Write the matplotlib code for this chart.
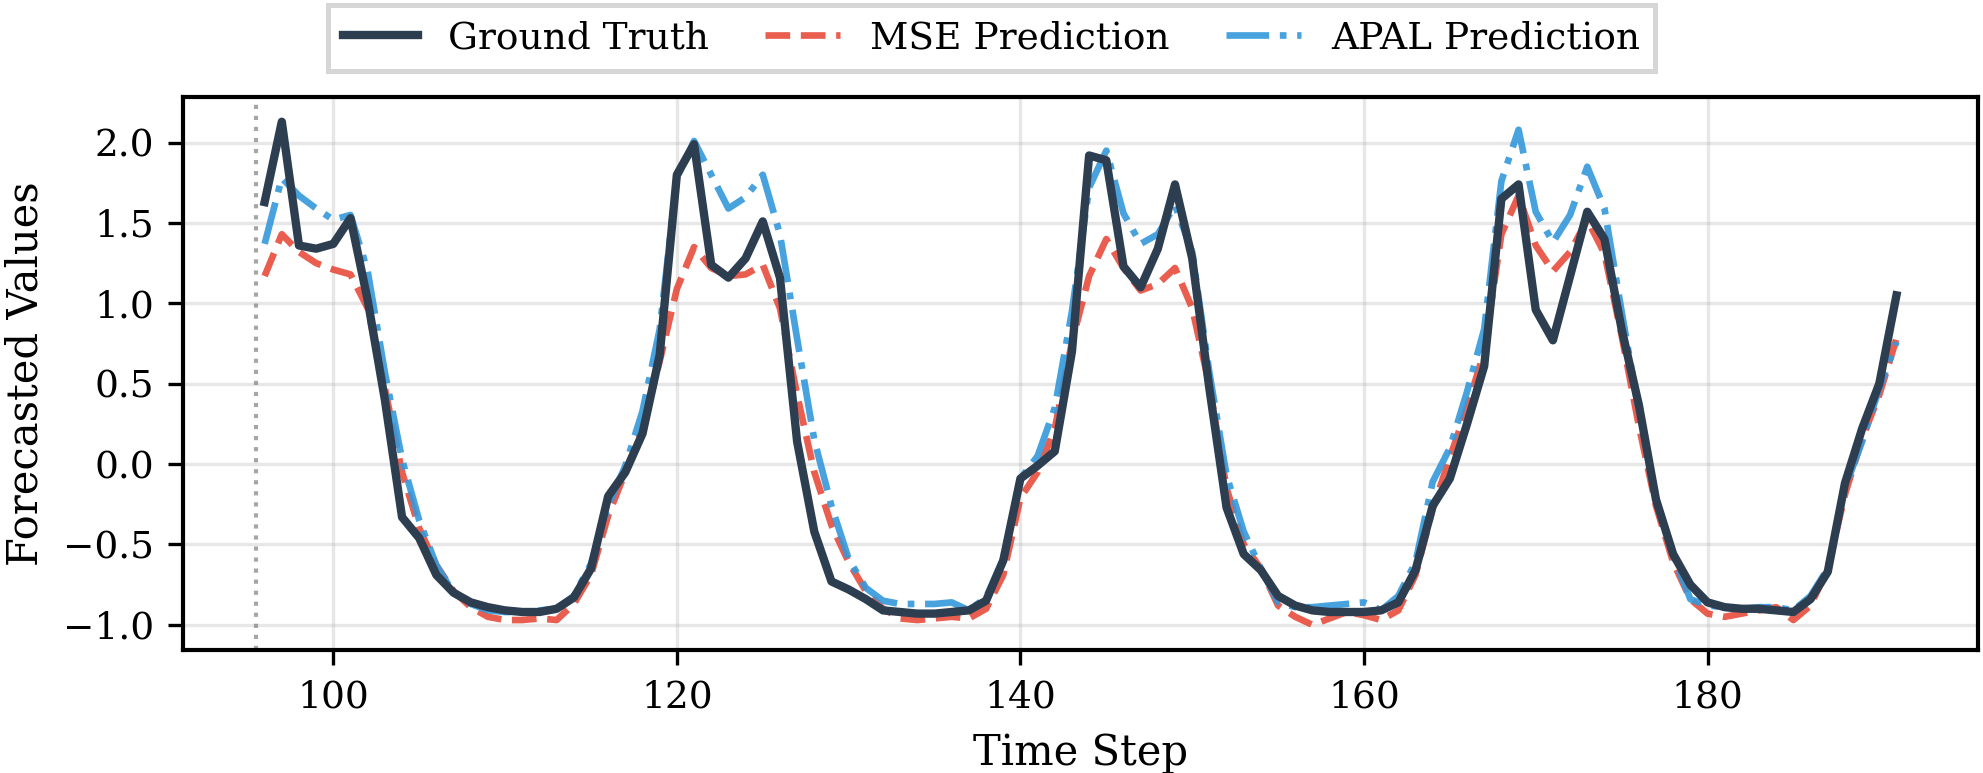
import numpy as np
import matplotlib

matplotlib.use("Agg")
import matplotlib.pyplot as plt

plt.rcParams["font.family"] = "DejaVu Serif"

# time steps of the forecast horizon
time_steps = list(range(96, 192))
input_end = 95.5

ground_truth = [
    1.63, 2.13, 1.36, 1.34, 1.37, 1.53, 1.02, 0.40, -0.33, -0.46,
    -0.69, -0.80, -0.86, -0.89, -0.91, -0.92, -0.92, -0.90, -0.83, -0.65,
    -0.20, -0.05, 0.19, 0.68, 1.80, 1.99, 1.24, 1.16, 1.28, 1.51,
    1.16, 0.14, -0.42, -0.73, -0.78, -0.84, -0.91, -0.92, -0.93, -0.93,
    -0.92, -0.91, -0.85, -0.60, -0.09, -0.01, 0.08, 0.70, 1.92, 1.89,
    1.23, 1.10, 1.34, 1.74, 1.28, 0.47, -0.27, -0.56, -0.66, -0.82,
    -0.88, -0.91, -0.92, -0.92, -0.92, -0.91, -0.86, -0.66, -0.26, -0.09,
    0.25, 0.61, 1.65, 1.74, 0.96, 0.77, 1.17, 1.57, 1.40, 0.84,
    0.37, -0.22, -0.56, -0.75, -0.86, -0.89, -0.90, -0.90, -0.91, -0.92,
    -0.84, -0.67, -0.12, 0.22, 0.50, 1.05,
]

mse_pred = [
    1.17, 1.43, 1.32, 1.25, 1.21, 1.18, 0.97, 0.47, -0.05, -0.40,
    -0.63, -0.79, -0.89, -0.95, -0.97, -0.97, -0.96, -0.97, -0.87, -0.69,
    -0.32, -0.05, 0.22, 0.64, 1.09, 1.35, 1.22, 1.17, 1.18, 1.24,
    0.97, 0.43, -0.05, -0.38, -0.61, -0.79, -0.90, -0.96, -0.97, -0.96,
    -0.95, -0.96, -0.90, -0.69, -0.21, -0.05, 0.22, 0.76, 1.17, 1.40,
    1.22, 1.08, 1.12, 1.22, 0.97, 0.49, -0.15, -0.50, -0.65, -0.88,
    -0.95, -1.00, -0.96, -0.92, -0.94, -0.97, -0.91, -0.69, -0.28, 0.04,
    0.35, 0.70, 1.43, 1.67, 1.36, 1.20, 1.32, 1.52, 1.31, 0.80,
    0.24, -0.26, -0.61, -0.84, -0.93, -0.95, -0.93, -0.91, -0.89, -0.97,
    -0.88, -0.65, -0.19, 0.16, 0.43, 0.78,
]

apal_pred = [
    1.37, 1.78, 1.67, 1.59, 1.52, 1.55, 1.20, 0.57, 0.03, -0.35,
    -0.63, -0.80, -0.87, -0.91, -0.92, -0.92, -0.91, -0.90, -0.82, -0.62,
    -0.26, -0.01, 0.33, 0.84, 1.78, 2.01, 1.80, 1.59, 1.66, 1.80,
    1.43, 0.78, 0.15, -0.26, -0.59, -0.77, -0.85, -0.87, -0.87, -0.87,
    -0.86, -0.91, -0.83, -0.59, -0.09, 0.05, 0.35, 0.95, 1.72, 1.95,
    1.56, 1.37, 1.43, 1.61, 1.32, 0.57, -0.07, -0.42, -0.65, -0.86,
    -0.89, -0.89, -0.88, -0.87, -0.86, -0.91, -0.82, -0.61, -0.11, 0.10,
    0.45, 0.84, 1.76, 2.08, 1.57, 1.38, 1.55, 1.85, 1.59, 0.95,
    0.33, -0.21, -0.57, -0.84, -0.88, -0.89, -0.90, -0.89, -0.89, -0.91,
    -0.82, -0.65, -0.15, 0.14, 0.47, 0.76,
]

fig = plt.figure(figsize=(1983 / 300, 773 / 300), dpi=300)
ax = fig.add_axes([0.0923, 0.1591, 0.9052, 0.7160])

ax.plot(time_steps, ground_truth, color="#2c3e50", lw=2.0, label="Ground Truth", zorder=3)
ax.plot(time_steps, mse_pred, color="#e74c3c", lw=1.6, ls="--", alpha=0.9, label="MSE Prediction")
ax.plot(time_steps, apal_pred, color="#3498db", lw=1.6, ls="-.", alpha=0.9, label="APAL Prediction")
ax.axvline(input_end, color="gray", ls=":", lw=1.0, alpha=0.7)

ax.set_xlabel("Time Step", fontsize=10)
ax.set_ylabel("Forecasted Values", fontsize=10)
ax.tick_params(labelsize=9)
ax.grid(True, alpha=0.3)
for s in ax.spines.values():
    s.set_linewidth(1.0)

leg = fig.legend(
    loc="upper center",
    bbox_to_anchor=(0.5, 0.998),
    borderaxespad=0.1,
    ncol=3,
    fontsize=9,
    fancybox=False,
    columnspacing=1.5,
    edgecolor="#cccccc",
)
leg.get_frame().set_linewidth(1.2)

fig.savefig("out.png", dpi=300)
